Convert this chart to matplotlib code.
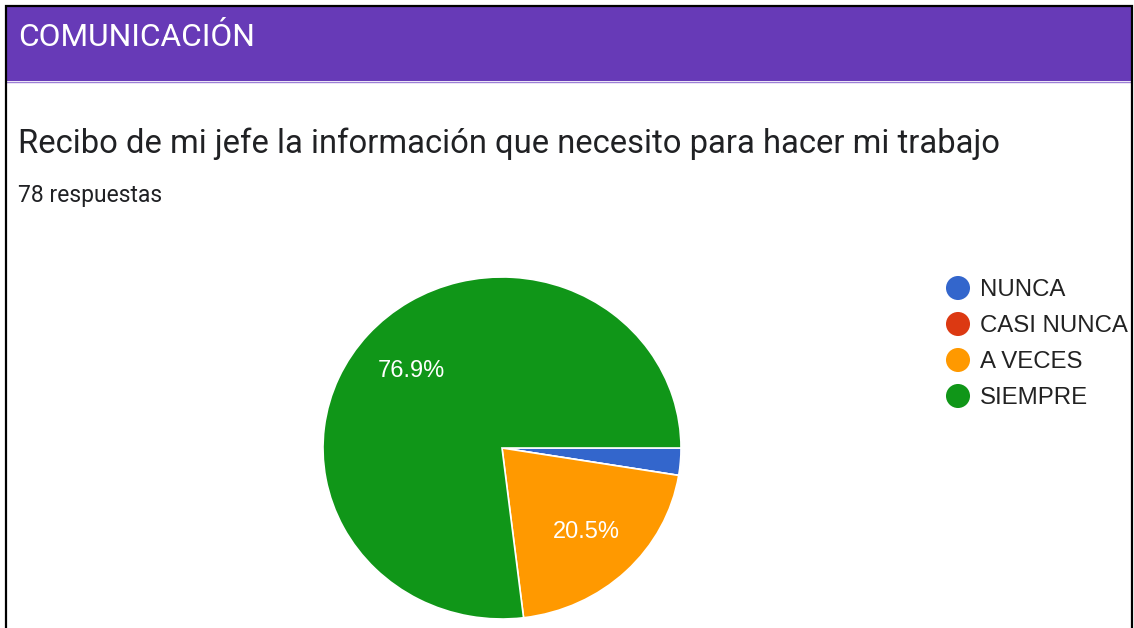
import matplotlib
matplotlib.use("Agg")
import matplotlib.pyplot as plt
from matplotlib.patches import Rectangle

# survey answers (78 respuestas)
categories = ["NUNCA", "CASI NUNCA", "A VECES", "SIEMPRE"]
counts = [2, 0, 16, 60]
colors = ["#3366CC", "#DC3912", "#FF9900", "#109618"]

section_title = "COMUNICACIÓN"
question = "Recibo de mi jefe la información que necesito para hacer mi trabajo"
n_answers = "78 respuestas"

W, H = 1134, 628
fig = plt.figure(figsize=(W / 100, H / 100), dpi=100)
fig.patch.set_facecolor("white")

# overlay in pixel coordinates for the card decoration
bg = fig.add_axes([0, 0, 1, 1])
bg.set_xlim(0, W)
bg.set_ylim(H, 0)
bg.axis("off")

bg.add_patch(Rectangle((7, 7), 1124, 74, facecolor="#673AB7", edgecolor="none"))
bg.plot([7, 1131], [81.5, 81.5], color="#9C7FD6", lw=1)
# black frame of the screenshot
bg.plot([6, 6, 1132, 1132], [H + 5, 6, 6, H + 5], color="black", lw=1.6,
        solid_joinstyle="miter")

bg.text(18, 46, section_title, color="white", fontsize=22.8, family="Roboto",
        va="baseline", ha="left")
bg.text(18, 153, question, color="#202124", fontsize=23.6, family="Roboto",
        va="baseline", ha="left")
bg.text(18, 202, n_answers, color="#202124", fontsize=16.5, family="Roboto",
        va="baseline", ha="left")

# legend
for i, (lab, col) in enumerate(zip(categories, colors)):
    y = 288 + 36 * i
    bg.scatter([958], [y], s=24 ** 2 * 0.52, color=col, edgecolor="none")
    bg.text(980, y + 8, lab, color="#222222", fontsize=17.3,
            family="Liberation Sans", va="baseline", ha="left")

# pie (screenshot is slightly squashed vertically)
cx, cy, rx, ry = 502, 448, 179, 171
ax = fig.add_axes([(cx - rx) / W, (H - cy - ry) / H, 2 * rx / W, 2 * ry / H])


def fmt(p):
    return f"{p:.1f}%" if p > 5 else ""


wedges, texts, autotexts = ax.pie(
    counts, colors=colors, startangle=0, counterclock=False,
    autopct=fmt, pctdistance=0.68,
    wedgeprops=dict(edgecolor="white", linewidth=1.2),
    textprops=dict(color="white", fontsize=17, family="Liberation Sans"),
)
ax.set_aspect("auto")
ax.set_xlim(-1, 1)
ax.set_ylim(-1, 1)
ax.axis("off")

fig.savefig("out.png", dpi=100)
